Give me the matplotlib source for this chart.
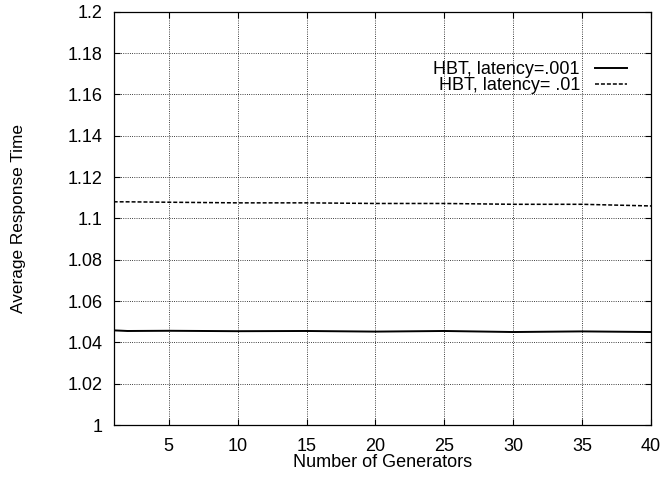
import matplotlib
matplotlib.use('Agg')
import matplotlib.pyplot as plt

# dados
geradores = [1, 2, 5, 10, 15, 20, 25, 30, 35, 40]
lat_001 = [1.0458, 1.0455, 1.0456, 1.0454, 1.0455, 1.0452, 1.0455, 1.0450, 1.0453, 1.0450]
lat_01 = [1.1080, 1.1080, 1.1078, 1.1075, 1.1075, 1.1072, 1.1072, 1.1068, 1.1068, 1.1060]

plt.rcParams['font.family'] = ['Liberation Sans', 'DejaVu Sans']
plt.rcParams['font.size'] = 13

fig = plt.figure(figsize=(6.61, 4.79), dpi=100)
ax = fig.add_axes([0.172, 0.1127, 0.813, 0.8629])

ax.plot(geradores, lat_001, color='black', lw=1.4, label='HBT, latency=.001')
ax.plot(geradores, lat_01, color='black', lw=1.1, ls=(0, (2.6, 1.3)), label='HBT, latency= .01')

ax.set_xlim(1, 40)
ax.set_ylim(1.0, 1.2)
ax.set_xticks([5, 10, 15, 20, 25, 30, 35, 40])
yt = [1.0, 1.02, 1.04, 1.06, 1.08, 1.1, 1.12, 1.14, 1.16, 1.18, 1.2]
ax.set_yticks(yt)
ax.set_yticklabels(['1', '1.02', '1.04', '1.06', '1.08', '1.1', '1.12', '1.14', '1.16', '1.18', '1.2'])

ax.grid(True, color='black', ls=':', lw=0.6)
ax.tick_params(direction='in', length=4, width=0.8, top=True, right=True)
ax.tick_params(axis='x', pad=9.5)
ax.tick_params(axis='y', pad=8)
for s in ax.spines.values():
    s.set_linewidth(0.9)

ax.set_xlabel('Number of Generators', va='top')
ax.xaxis.set_label_coords(0.5, -0.070)
ax.set_ylabel('Average Response Time', fontsize=12.4)
ax.yaxis.set_label_coords(-0.163, 0.5)

ax.legend(loc='upper right', bbox_to_anchor=(0.9553, 0.881), frameon=False,
          markerfirst=False, handlelength=1.78, handletextpad=0.83,
          labelspacing=-0.05, borderpad=0, borderaxespad=0)

plt.savefig('out.png', dpi=100)
